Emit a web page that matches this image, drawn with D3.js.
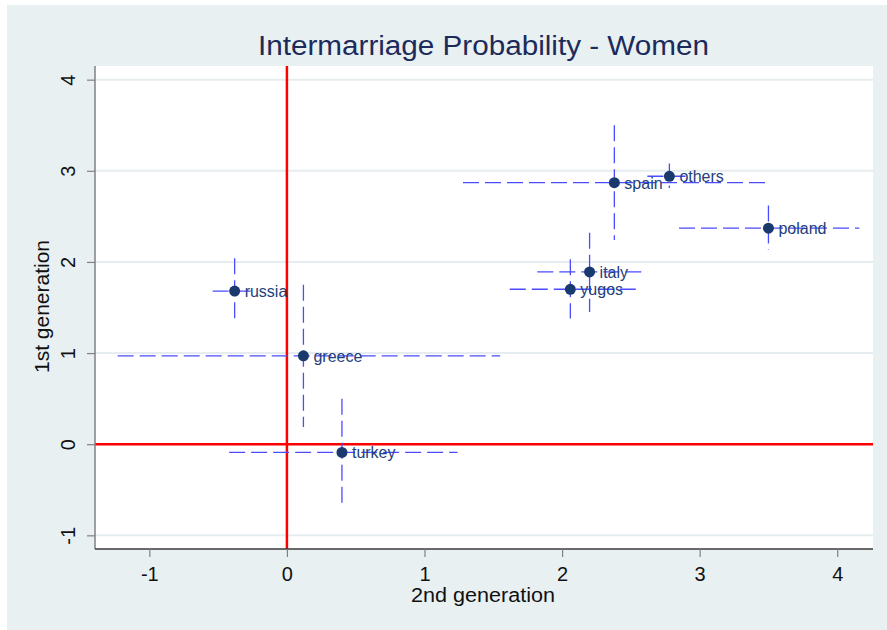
<!DOCTYPE html>
<html>
<head>
<meta charset="utf-8">
<script src="https://cdn.jsdelivr.net/npm/d3@7"></script>
<style>
  html, body { margin: 0; padding: 0; background: #ffffff; }
  svg { display: block; }
  text { font-family: "Liberation Sans", Arial, sans-serif; }
</style>
</head>
<body>
<svg id="chart" width="887" height="630"></svg>
<script>
// Country groups with point estimates and interval bounds
const countries = ["russia", "greece", "turkey", "spain", "others", "poland", "italy", "yugos"];
const secondGen   = [-0.38, 0.12, 0.40, 2.38, 2.78, 3.50, 2.20, 2.06];
const secondGenLo = [-0.54, -1.23, -0.42, 1.28, 2.62, 2.85, 1.82, 1.62];
const secondGenHi = [-0.23, 1.55, 1.24, 3.49, 2.94, 4.16, 2.62, 2.56];
const firstGen    = [1.68, 0.97, -0.09, 2.87, 2.94, 2.37, 1.89, 1.70];
const firstGenLo  = [1.33, 0.19, -0.67, 2.24, 2.81, 2.13, 1.45, 1.38];
const firstGenHi  = [2.04, 1.75, 0.50, 3.50, 3.08, 2.62, 2.32, 2.03];
const xTicks = [-1, 0, 1, 2, 3, 4];
const yTicks = [-1, 0, 1, 2, 3, 4];

const rows = countries.map((c, i) => ({
  name: c,
  x: secondGen[i], xLo: secondGenLo[i], xHi: secondGenHi[i],
  y: firstGen[i], yLo: firstGenLo[i], yHi: firstGenHi[i]
}));

const svg = d3.select("#chart");
const plot = { left: 95, right: 873, top: 66, bottom: 549 };

const x = d3.scaleLinear().domain([-1.395, 4.26]).range([plot.left, plot.right]);
const y = d3.scaleLinear().domain([-1.15, 4.15]).range([plot.bottom, plot.top]);
const tickText = d => String(d); // plain hyphen for negatives

// Outer graph region
svg.append("rect").attr("x", 7).attr("y", 5).attr("width", 880).attr("height", 625)
  .attr("fill", "#e8f0f2");

// Plot region
svg.append("rect").attr("x", plot.left).attr("y", plot.top)
  .attr("width", plot.right - plot.left).attr("height", plot.bottom - plot.top)
  .attr("fill", "#ffffff");

// Horizontal grid lines
svg.append("g").selectAll("line").data(yTicks).join("line")
  .attr("x1", plot.left).attr("x2", plot.right)
  .attr("y1", d => y(d)).attr("y2", d => y(d))
  .attr("stroke", "#e6edf0").attr("stroke-width", 2);

// Reference lines at zero
svg.append("line").attr("x1", x(0)).attr("x2", x(0))
  .attr("y1", plot.top).attr("y2", plot.bottom)
  .attr("stroke", "#ff0000").attr("stroke-width", 2.5);
svg.append("line").attr("x1", plot.left).attr("x2", plot.right)
  .attr("y1", y(0)).attr("y2", y(0))
  .attr("stroke", "#ff0000").attr("stroke-width", 2.5);

// Interval bars (dashed)
const bars = svg.append("g").attr("fill", "none")
  .attr("stroke", "#4b4bff").attr("stroke-width", 1.3)
  .attr("stroke-dasharray", "16,6");
bars.selectAll("line.h").data(rows).join("line").attr("class", "h")
  .attr("x1", d => x(d.xLo)).attr("x2", d => x(d.xHi))
  .attr("y1", d => y(d.y)).attr("y2", d => y(d.y));
bars.selectAll("line.v").data(rows).join("line").attr("class", "v")
  .attr("x1", d => x(d.x)).attr("x2", d => x(d.x))
  .attr("y1", d => y(d.yHi)).attr("y2", d => y(d.yLo));

// Points
svg.append("g").selectAll("circle").data(rows).join("circle")
  .attr("cx", d => x(d.x)).attr("cy", d => y(d.y)).attr("r", 5.5)
  .attr("fill", "#1a3a6e");

// Point labels
svg.append("g").selectAll("text").data(rows).join("text")
  .attr("x", d => x(d.x) + 10).attr("y", d => y(d.y) + 6)
  .attr("font-size", 16).attr("fill", "#23407a")
  .text(d => d.name);

// Y axis
const yAxis = svg.append("g").attr("transform", `translate(${plot.left},0)`)
  .call(d3.axisLeft(y).tickValues(yTicks).tickSize(8).tickSizeOuter(0).tickFormat(tickText));
yAxis.select(".domain").attr("stroke", "#808080").attr("stroke-width", 1.5)
  .attr("d", `M0,${plot.top}V${plot.bottom}`);
yAxis.selectAll(".tick line").attr("stroke", "#808080").attr("stroke-width", 1.2);
yAxis.selectAll(".tick text")
  .attr("x", 0).attr("y", 0).attr("dy", 0)
  .attr("text-anchor", "middle")
  .attr("transform", "translate(-20,0) rotate(-90)")
  .attr("font-size", 20).attr("fill", "#111111")
  .style("font-family", "'Liberation Sans', Arial, sans-serif");

// X axis
const xAxis = svg.append("g").attr("transform", `translate(0,${plot.bottom})`)
  .call(d3.axisBottom(x).tickValues(xTicks).tickSize(8).tickSizeOuter(0).tickPadding(10).tickFormat(tickText));
xAxis.select(".domain").attr("stroke", "#3a3a3a").attr("stroke-width", 1.5)
  .attr("d", `M${plot.left},0H${plot.right}`);
xAxis.selectAll(".tick line").attr("stroke", "#808080").attr("stroke-width", 1.2);
xAxis.selectAll(".tick text")
  .attr("font-size", 20).attr("fill", "#111111")
  .style("font-family", "'Liberation Sans', Arial, sans-serif");

// Titles
svg.append("text").attr("x", 483.5).attr("y", 55)
  .attr("text-anchor", "middle").attr("font-size", 27).attr("fill", "#1c2b5a")
  .attr("textLength", 451).attr("lengthAdjust", "spacingAndGlyphs")
  .text("Intermarriage Probability - Women");

svg.append("text").attr("x", 483).attr("y", 602)
  .attr("text-anchor", "middle").attr("font-size", 20).attr("fill", "#111111")
  .attr("textLength", 144).attr("lengthAdjust", "spacingAndGlyphs")
  .text("2nd generation");

svg.append("text")
  .attr("transform", "translate(49,306.5) rotate(-90)")
  .attr("text-anchor", "middle").attr("font-size", 20).attr("fill", "#111111")
  .attr("textLength", 133).attr("lengthAdjust", "spacingAndGlyphs")
  .text("1st generation");
</script>
</body>
</html>
